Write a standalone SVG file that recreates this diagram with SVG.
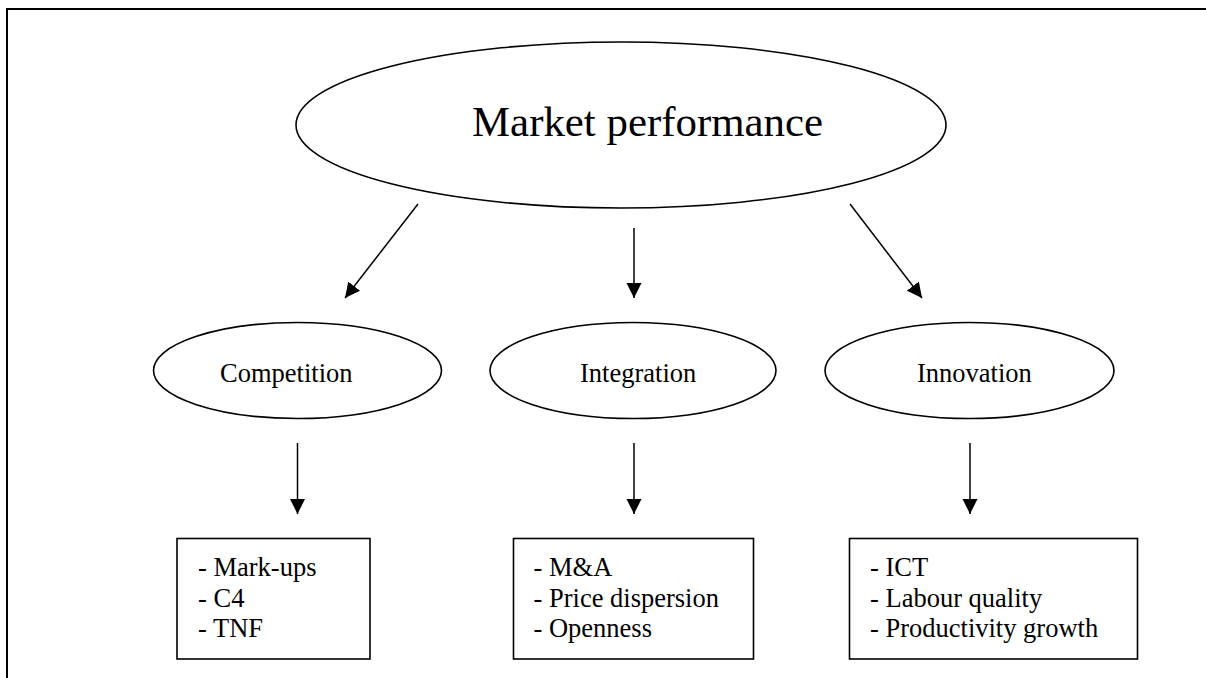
<svg xmlns="http://www.w3.org/2000/svg" width="1206" height="678" viewBox="0 0 1206 678">
  <style>
    .shape { fill: #ffffff; stroke: #000000; stroke-width: 1.6; }
    .frame { fill: none; stroke: #000000; stroke-width: 2; }
    .link { fill: none; stroke: #000000; stroke-width: 1.5; }
    .label { font-family: "Liberation Serif", "Times New Roman", serif; fill: #000000; }
    .title { font-size: 42px; }
    .sub { font-size: 26.5px; }
    .item { font-size: 26.5px; }
  </style>
  <defs>
    <marker id="head" markerUnits="userSpaceOnUse" markerWidth="16" markerHeight="16" viewBox="0 0 16 16" refX="15" refY="8" orient="auto">
      <path d="M0,0.5 L15,8 L0,15.5 Z" fill="#000000"/>
    </marker>
  </defs>

  <rect width="1206" height="678" fill="#ffffff"/>

  <!-- page frame: left and top edges only -->
  <path class="frame" d="M7,678 L7,9 L1206,9"/>

  <g id="market-performance">
    <ellipse class="shape" cx="621" cy="125" rx="325" ry="83"/>
    <text class="label title" x="472" y="136" textLength="351" lengthAdjust="spacingAndGlyphs">Market performance</text>
  </g>

  <g id="competition">
    <ellipse class="shape" cx="297.5" cy="370.5" rx="144" ry="48"/>
    <text class="label sub" x="220" y="381.5">Competition</text>
  </g>

  <g id="integration">
    <ellipse class="shape" cx="633" cy="370.5" rx="143" ry="48"/>
    <text class="label sub" x="580" y="381.5">Integration</text>
  </g>

  <g id="innovation">
    <ellipse class="shape" cx="969.5" cy="370.5" rx="144.5" ry="48"/>
    <text class="label sub" x="917" y="381.5">Innovation</text>
  </g>

  <g id="competition-measures">
    <rect class="shape" x="177" y="538.5" width="193" height="120.5"/>
    <text class="label item" x="198" y="576">- Mark-ups</text>
    <text class="label item" x="198" y="606.5">- C4</text>
    <text class="label item" x="198" y="637">- TNF</text>
  </g>

  <g id="integration-measures">
    <rect class="shape" x="513.5" y="538.5" width="240" height="120.5"/>
    <text class="label item" x="533.5" y="576">- M&amp;A</text>
    <text class="label item" x="533.5" y="606.5">- Price dispersion</text>
    <text class="label item" x="533.5" y="637">- Openness</text>
  </g>

  <g id="innovation-measures">
    <rect class="shape" x="849.5" y="538.5" width="288" height="120.5"/>
    <text class="label item" x="870" y="576">- ICT</text>
    <text class="label item" x="870" y="606.5">- Labour quality</text>
    <text class="label item" x="870" y="637">- Productivity growth</text>
  </g>

  <g id="connectors">
    <line class="link" x1="418" y1="204" x2="345" y2="298" marker-end="url(#head)"/>
    <line class="link" x1="634" y1="228" x2="634" y2="298" marker-end="url(#head)"/>
    <line class="link" x1="850" y1="204" x2="922" y2="298" marker-end="url(#head)"/>
    <line class="link" x1="297.5" y1="443" x2="297.5" y2="514" marker-end="url(#head)"/>
    <line class="link" x1="634" y1="443" x2="634" y2="514" marker-end="url(#head)"/>
    <line class="link" x1="970" y1="443" x2="970" y2="514" marker-end="url(#head)"/>
  </g>
</svg>
